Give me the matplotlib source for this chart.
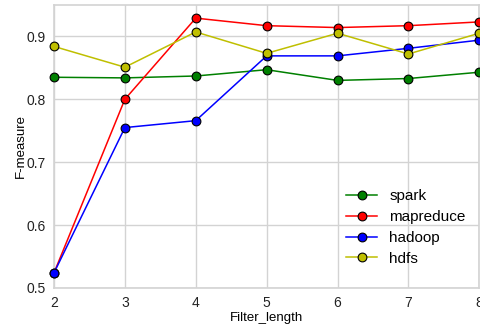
import matplotlib
matplotlib.use("Agg")
import matplotlib.pyplot as plt

# données
filter_length = [2, 3, 4, 5, 6, 7, 8]
spark = [0.835, 0.834, 0.837, 0.847, 0.830, 0.833, 0.843]
mapreduce = [0.524, 0.800, 0.929, 0.917, 0.914, 0.917, 0.923]
hadoop = [0.524, 0.755, 0.766, 0.869, 0.869, 0.881, 0.894]
hdfs = [0.884, 0.851, 0.907, 0.873, 0.905, 0.872, 0.905]

plt.rcParams['font.family'] = ['Liberation Sans', 'DejaVu Sans']

fig = plt.figure(figsize=(4.8, 3.28), dpi=100)
ax = fig.add_axes([0.1125, 0.122, 0.886, 0.863])

series = [(spark, 'g', 'spark'), (mapreduce, 'r', 'mapreduce'),
          (hadoop, 'b', 'hadoop'), (hdfs, 'y', 'hdfs')]
for vals, c, lab in series:
    ax.plot(filter_length, vals, color=c, marker='o', markersize=6.3,
            markeredgecolor='black', markeredgewidth=0.8, linewidth=1.1,
            label=lab, clip_on=False, zorder=3)

ax.set_xlim(2, 8)
ax.set_ylim(0.5, 0.95)
ax.set_yticks([0.5, 0.6, 0.7, 0.8, 0.9])
ax.grid(True, color='#d3d3d3', linewidth=1)
ax.set_axisbelow(True)
for s in ax.spines.values():
    s.set_color('#d3d3d3')
    s.set_linewidth(1.2)
ax.tick_params(length=0, labelsize=10, colors='#222222', pad=6)
ax.set_xlabel("Filter_length", fontsize=9.5, labelpad=1)
ax.set_ylabel("F-measure", fontsize=9.5, labelpad=0)
ax.legend(loc='lower right', frameon=False, fontsize=11, numpoints=1,
          handlelength=2.0, handletextpad=0.8, labelspacing=0.45,
          bbox_to_anchor=(1.0, 0.03))

fig.savefig("out.png", dpi=100)
